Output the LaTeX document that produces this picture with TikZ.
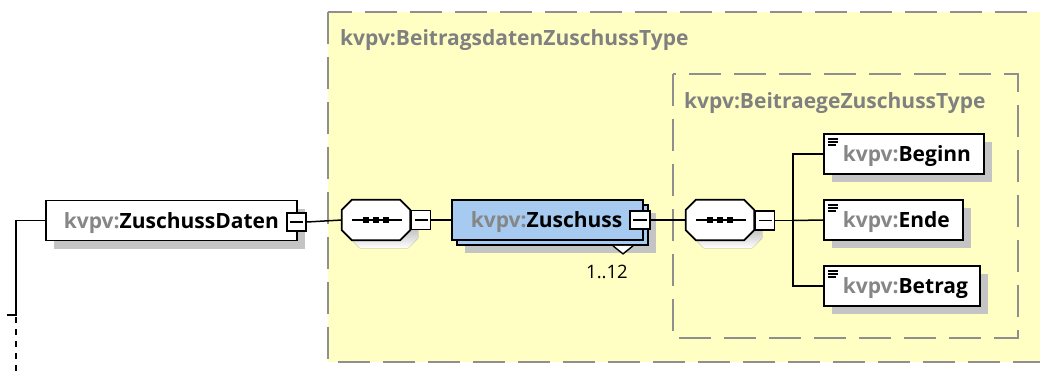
\documentclass[tikz,border=0pt]{standalone}
\usepackage{fontspec}
\setmainfont{Open Sans}
\usetikzlibrary{positioning,shadows}
\definecolor{typebg}{HTML}{FFFFC4}
\definecolor{typeline}{HTML}{8F8F8F}
\definecolor{typetitle}{HTML}{808080}
\definecolor{shade}{HTML}{C4C4C4}
\definecolor{prefix}{HTML}{868686}
\definecolor{elemblue}{HTML}{A6CAF0}
\newcommand{\ns}{\textcolor{prefix}{kvpv:}}
\newcommand{\octpath}[2]{([shift={#2},xshift=10pt]#1.north west) -- ([shift={#2},xshift=-10pt]#1.north east) -- ([shift={#2},yshift=-10pt]#1.north east) -- ([shift={#2},yshift=10pt]#1.south east) -- ([shift={#2},xshift=-10pt]#1.south east) -- ([shift={#2},xshift=10pt]#1.south west) -- ([shift={#2},yshift=10pt]#1.south west) -- ([shift={#2},yshift=-10pt]#1.north west) -- cycle}
\newcommand{\seqdots}[1]{\draw[line width=1.4pt] ([xshift=10pt]#1.west) -- ([xshift=-8pt]#1.east);
  \foreach \d in {-10,0,10} \fill ([xshift=\d pt]#1.center) +(-3pt,-3pt) rectangle +(3pt,3pt);}

\begin{document}
\begin{tikzpicture}[x=1pt, y=-1pt,
    elem/.style={draw=black, line width=1.7pt, fill=white, anchor=west, align=left,
      minimum height=40pt, inner ysep=0pt, text height=15pt, text depth=0pt,
      font=\fontsize{21}{24}\selectfont\bfseries},
    shadowed/.style={drop shadow={shadow xshift=8pt, shadow yshift=-8pt, fill=shade, opacity=1}},
    leaf/.style={elem, shadowed, inner xsep=19pt,
      path picture={\foreach \k/\l in {0/10,1/10,2/8}
        \draw[line width=1.3pt] ([shift={(4pt,-5pt-3*\k pt)}]path picture bounding box.north west) -- ++(\l pt,0);}},
    minus/.style={draw=black, fill=white, line width=1.6pt, inner sep=0pt, minimum width=19pt, minimum height=19pt,
      path picture={\draw[line width=1.3pt] ([xshift=3pt]path picture bounding box.west) -- ([xshift=-3pt]path picture bounding box.east);}},
    seqrect/.style={minimum width=68pt, minimum height=40pt, inner sep=0pt},
    conn/.style={line width=1.5pt, black},
    typebox/.style={draw=typeline, line width=1.8pt, dash pattern=on 32pt off 13pt},
    title/.style={font=\fontsize{21}{24}\selectfont\bfseries, text=typetitle, inner sep=0pt, anchor=base west}]
\useasboundingbox (0,0) rectangle (1040,373);
\clip (0,0) rectangle (1040,373);

\filldraw[typebox, fill=typebg] (328,12) rectangle (1070,362);
\node[title] (outertitle) at (340,45) {kvpv:BeitragsdatenZuschussType};
\draw[typebox] (673,74) rectangle (1018,338);
\node[title] (innertitle) at (684,108) {kvpv:BeitraegeZuschussType};

\node[elem, shadowed, inner xsep=18pt, text width=215pt] (zd) at (45,220.5) {\ns ZuschussDaten};
\node[minus, minimum height=18pt] (zdm) at (296.5,222) {};

\node[seqrect] (seqA) at (376,220) {};
\fill[shade] \octpath{seqA}{(8,8)};
\filldraw[fill=white, line width=1.7pt] \octpath{seqA}{(0,0)};
\seqdots{seqA}
\node[minus] (seqAm) at (421,220) {};

\node[elem, shadowed, fill=elemblue, inner xsep=19pt, text width=153pt] (zuback) at (456,225) {};
\node[elem, fill=elemblue, inner xsep=19pt, text width=153pt] (zu) at (451,220) {\ns Zuschuss};
\node[minus, minimum width=20pt, minimum height=18pt] (zum) at (640,220) {};
\filldraw[line width=1.4pt, fill=white] ([xshift=157pt]zuback.south west) -- ([xshift=167pt,yshift=-8pt]zuback.south west) -- ([xshift=177pt]zuback.south west);
\node[anchor=base east, inner sep=0pt, font=\fontsize{18.5}{20}\selectfont] (occ) at (628,278) {1..12};

\node[seqrect] (seqB) at (720,220) {};
\fill[shade] \octpath{seqB}{(8,8)};
\filldraw[fill=white, line width=1.7pt] \octpath{seqB}{(0,0)};
\seqdots{seqB}
\node[minus] (seqBm) at (765,220.5) {};

\node[leaf, text width=122pt] (beg) at (823,154) {\ns Beginn};
\node[leaf, text width=101pt] (end) at (823,220) {\ns Ende};
\node[leaf, text width=118pt] (bet) at (823,286) {\ns Betrag};

\coordinate (fork) at (793,220.5);
\draw[conn] (zdm.east) -- (seqA.west);
\draw[conn] (seqAm.east) -- (zu.west);
\draw[conn] (zum.east) -- (seqB.west);
\draw[conn] (seqBm.east) -- (fork);
\draw[conn] (beg.west) -| (fork) |- (bet.west);
\draw[conn] (fork) -- (end.west);

\coordinate (lb) at (16,315);
\coordinate (tick) at (7,315);
\coordinate (lend) at (16,373);
\draw[conn] (zd.west) -| (lb) -- (tick);
\draw[conn, dash pattern=on 6pt off 6pt, dash phase=-2pt] (lb) -- (lend);
\end{tikzpicture}
\end{document}
